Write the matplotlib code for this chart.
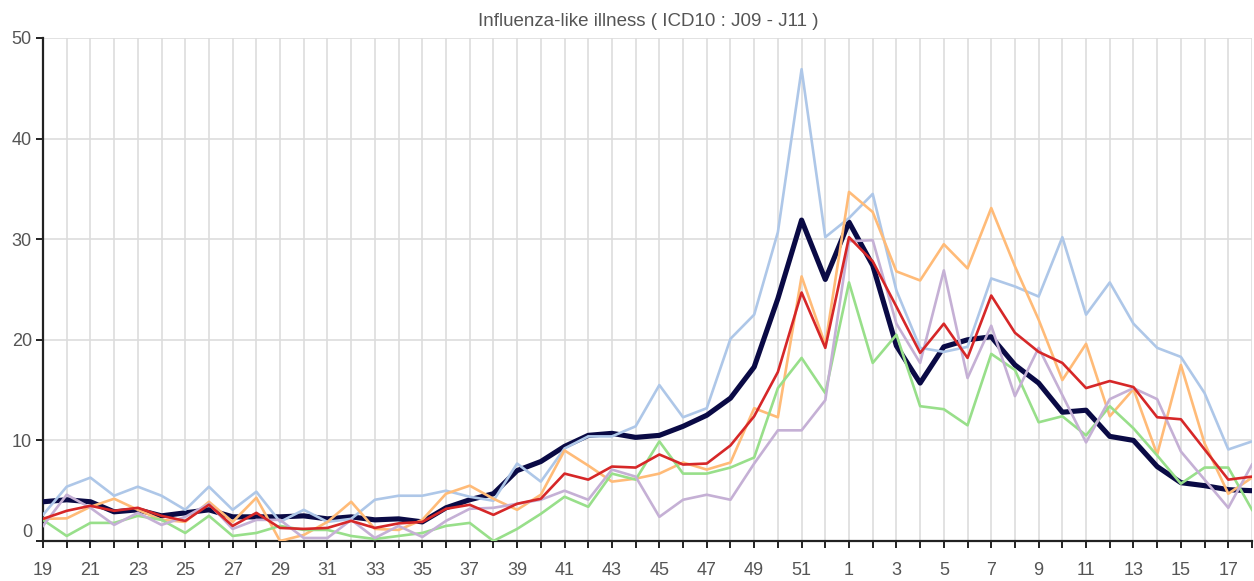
import matplotlib
matplotlib.use("Agg")
import matplotlib.pyplot as plt

plt.rcParams["font.family"] = ["Liberation Sans", "DejaVu Sans"]

TITLE = "Influenza-like illness ( ICD10 : J09 - J11 )"

weeks = list(range(19, 53)) + list(range(1, 19))

navy = [3.9, 4.1, 3.9, 2.9, 3.1, 2.5, 2.8, 3.1, 2.4, 2.4, 2.4, 2.5, 2.2, 2.4, 2.1, 2.2, 1.9,
        3.3, 4.1, 4.7, 7.0, 7.9, 9.4, 10.5, 10.7, 10.3, 10.5, 11.4, 12.5, 14.2, 17.3, 24.1, 31.9, 26.0,
        31.7, 27.4, 19.4, 15.7, 19.3, 20.0, 20.3, 17.5, 15.7, 12.8, 13.0, 10.4, 10.0, 7.4, 5.8, 5.5, 5.1, 5.0]

blue = [2.6, 5.4, 6.3, 4.5, 5.4, 4.5, 3.1, 5.4, 3.1, 4.9, 1.9, 3.1, 1.9, 2.2, 4.1, 4.5, 4.5,
        5.0, 4.4, 4.0, 7.7, 5.9, 9.2, 10.4, 10.4, 11.4, 15.5, 12.3, 13.2, 20.1, 22.5, 30.7, 46.9, 30.2,
        32.1, 34.5, 24.9, 19.2, 18.8, 19.3, 26.1, 25.3, 24.3, 30.2, 22.5, 25.7, 21.6, 19.2, 18.3, 14.7, 9.1, 9.9]

orange = [2.2, 2.25, 3.4, 4.2, 3.1, 2.1, 1.9, 3.9, 1.9, 4.3, 0.0, 0.6, 1.9, 3.9, 1.2, 1.1, 2.1,
          4.7, 5.5, 4.2, 3.1, 4.6, 9.0, 7.5, 5.9, 6.2, 6.7, 7.8, 7.1, 7.8, 13.2, 12.3, 26.3, 19.5,
          34.7, 32.7, 26.8, 25.9, 29.5, 27.1, 33.1, 27.3, 22.0, 16.0, 19.6, 12.4, 15.1, 8.6, 17.5, 9.7, 4.7, 6.3]

green = [2.1, 0.5, 1.8, 1.8, 2.5, 2.1, 0.8, 2.5, 0.5, 0.8, 1.5, 1.1, 1.1, 0.5, 0.2, 0.5, 0.8,
         1.5, 1.8, 0.0, 1.2, 2.7, 4.4, 3.4, 6.7, 6.1, 9.9, 6.7, 6.7, 7.3, 8.3, 15.2, 18.2, 14.7,
         25.7, 17.7, 20.5, 13.4, 13.1, 11.5, 18.6, 17.0, 11.8, 12.4, 10.5, 13.4, 11.2, 8.5, 5.7, 7.3, 7.3, 3.1]

purple = [1.5, 4.6, 3.3, 1.6, 2.8, 1.6, 2.4, 3.7, 1.2, 2.1, 2.1, 0.3, 0.3, 2.1, 0.3, 1.5, 0.4,
          2.0, 3.2, 3.3, 3.7, 4.1, 5.0, 4.1, 7.1, 6.4, 2.4, 4.1, 4.6, 4.1, 7.7, 11.0, 11.0, 14.0,
          29.8, 29.9, 21.6, 17.7, 26.9, 16.2, 21.4, 14.4, 19.2, 14.5, 9.8, 14.1, 15.2, 14.1, 8.9, 6.1, 3.3, 7.6]

red = [2.2, 3.0, 3.5, 3.0, 3.3, 2.5, 2.0, 3.6, 1.5, 2.8, 1.3, 1.2, 1.3, 2.0, 1.3, 1.75, 1.9,
       3.2, 3.6, 2.6, 3.7, 4.2, 6.7, 6.1, 7.4, 7.3, 8.6, 7.6, 7.7, 9.5, 12.4, 16.8, 24.7, 19.2,
       30.2, 27.8, 23.3, 18.7, 21.6, 18.2, 24.4, 20.7, 18.8, 17.7, 15.2, 15.9, 15.3, 12.3, 12.1, 9.1, 6.1, 6.4]

x = list(range(len(weeks)))

fig = plt.figure(figsize=(12.54, 5.81), dpi=100)
ax = fig.add_axes([43 / 1254, 40 / 581, 1209 / 1254, 503 / 581])

ax.plot(x, navy, color="#0a0a45", lw=3.7, zorder=3)
ax.plot(x, blue, color="#aec7e8", lw=1.9, zorder=3)
ax.plot(x, orange, color="#ffbb78", lw=1.9, zorder=3)
ax.plot(x, green, color="#98df8a", lw=1.9, zorder=3)
ax.plot(x, purple, color="#c5b0d5", lw=1.9, zorder=3)
ax.plot(x, red, color="#d62728", lw=1.9, zorder=3)

ax.set_xlim(0, len(weeks) - 1)
ax.set_ylim(0, 50)

ax.set_xticks(x)
ax.set_xticklabels([str(w) if i % 2 == 0 else "" for i, w in enumerate(weeks)])
ax.set_yticks([0, 10, 20, 30, 40, 50])

ax.grid(True, color="#dddddd", lw=1.2, zorder=0)
ax.set_axisbelow(True)

for s in ["top", "right"]:
    ax.spines[s].set_visible(False)
for s in ["left", "bottom"]:
    ax.spines[s].set_color("#222222")
    ax.spines[s].set_linewidth(1.6)

ax.tick_params(axis="x", length=5, width=1.4, color="#222222", pad=10,
               labelsize=13, labelcolor="#555555")
ax.tick_params(axis="y", length=5, width=1.4, color="#222222", pad=3,
               labelsize=13, labelcolor="#555555")
ax.get_yticklabels()[0].set_va("bottom")

fig.text(648 / 1254, 1 - 22 / 581, TITLE, ha="center", va="center",
         fontsize=13.5, color="#555555")

fig.savefig("out.png", dpi=100)
